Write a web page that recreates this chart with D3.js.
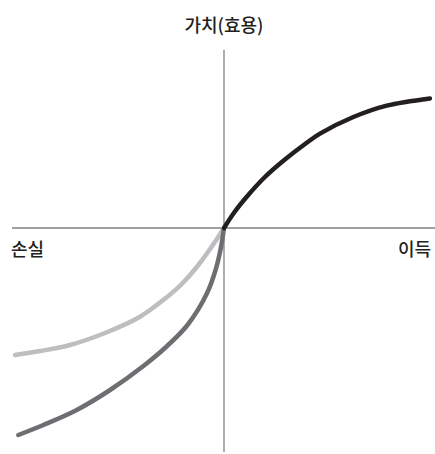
<!DOCTYPE html>
<html>
<head>
<meta charset="utf-8">
<script src="https://cdn.jsdelivr.net/npm/d3@7"></script>
<style>
  body { margin: 0; background: #fff; }
  text { font-family: "Noto Sans CJK KR", "Noto Sans", sans-serif; fill: #231f20; font-weight: 500; }
</style>
</head>
<body>
<div id="chart"></div>
<script>
// outcome (x) vs value (y)
const gainX = [0, 5, 11.5, 19.4, 28, 38.4, 45.5, 61.3, 77.1, 97.6];
const gainV = [0, 8, 16.5, 25.5, 33.5, 42, 47.2, 55.5, 61.2, 64.8];

const lossLightX = [0, -4, -11.4, -20, -27, -40, -56.4, -73, -87, -99];
const lossLightV = [0, -6.5, -17.5, -28, -34.5, -44.5, -52.5, -58.5, -61.5, -63.5];

const lossDarkX = [0, -1.5, -4, -8, -17.3, -28, -38.2, -54, -69.8, -85.6, -97.5];
const lossDarkV = [0, -10, -21, -32.5, -48.5, -60, -69, -81, -91, -98.5, -103.5];

const labels = { y: '가치(효용)', left: '손실', right: '이득' };

const width = 435, height = 454;

const svg = d3.select('#chart')
  .append('svg')
  .attr('width', width)
  .attr('height', height);

const x = d3.scaleLinear().domain([-100, 100]).range([13, 435]);
const y = d3.scaleLinear().domain([-112, 89]).range([452, 50]);

// axes
svg.append('line')
  .attr('x1', x(0)).attr('x2', x(0))
  .attr('y1', y(89)).attr('y2', y(-112))
  .attr('stroke', '#808080').attr('stroke-width', 1.3);

svg.append('line')
  .attr('x1', 12).attr('x2', width)
  .attr('y1', y(0)).attr('y2', y(0))
  .attr('stroke', '#808080').attr('stroke-width', 1.3);

const line = d3.line()
  .x(d => x(d[0]))
  .y(d => y(d[1]))
  .curve(d3.curveCatmullRom.alpha(0.5));

const series = [
  { xs: lossLightX, vs: lossLightV, color: '#bdbec0' },
  { xs: lossDarkX, vs: lossDarkV, color: '#6d6e71' },
  { xs: gainX, vs: gainV, color: '#231f20' }
];

series.forEach(s => {
  svg.append('path')
    .datum(s.xs.map((v, i) => [v, s.vs[i]]))
    .attr('d', line)
    .attr('fill', 'none')
    .attr('stroke', s.color)
    .attr('stroke-width', 4.5)
    .attr('stroke-linecap', 'round');
});

// labels
svg.append('text')
  .attr('x', x(0)).attr('y', 32)
  .attr('text-anchor', 'middle')
  .attr('font-size', 18)
  .text(labels.y);

svg.append('text')
  .attr('x', 11).attr('y', 256)
  .attr('font-size', 18)
  .text(labels.left);

svg.append('text')
  .attr('x', 431).attr('y', 256)
  .attr('text-anchor', 'end')
  .attr('font-size', 18)
  .text(labels.right);
</script>
</body>
</html>
